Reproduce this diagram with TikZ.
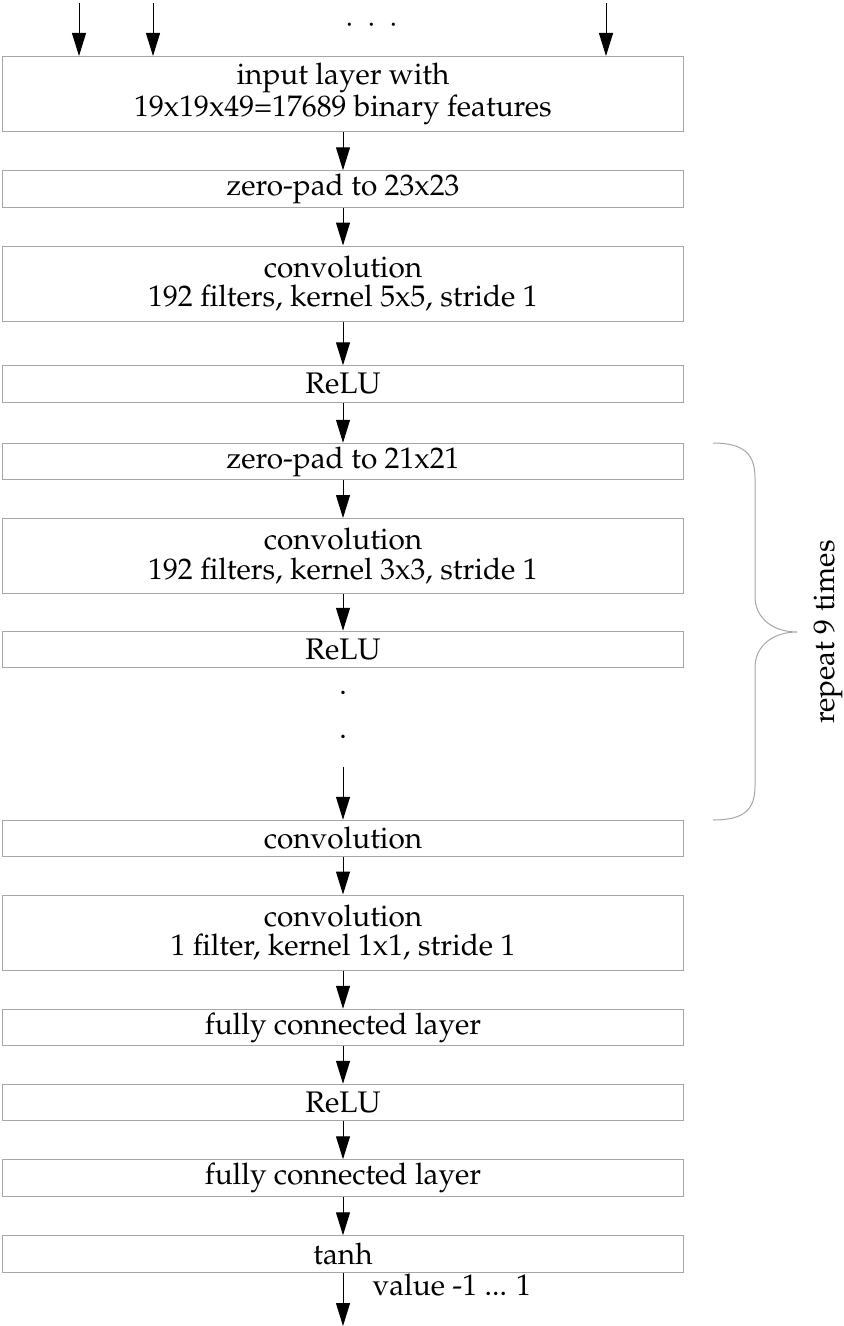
\documentclass[tikz,border=0pt]{standalone}
\usepackage[T1]{fontenc}
\usepackage{mathpazo}
\usetikzlibrary{arrows.meta}

\begin{document}
\begin{tikzpicture}[x=0.4pt,y=-0.4pt,>={Triangle[length=9.2pt,width=5.6pt]},
  every node/.style={font=\fontsize{11.9pt}{11.8pt}\selectfont},
  layer/.style={draw=black!35,line width=0.4pt,minimum width=272pt,minimum height=14.6pt,inner sep=0pt,align=center},
  big/.style={layer,minimum height=30pt}]
\useasboundingbox (0,0) rectangle (843,1326);
\node[big](in) at (343,94){input layer with\\19x19x49=17689 binary features};
\node[layer](pad1) at (343,189){zero-pad to 23x23};
\node[big](conv1) at (343,283.5){convolution\\192 filters, kernel 5x5, stride 1};
\node[layer](relu1) at (343,384){ReLU};
\node[layer](pad2) at (343,461.5){zero-pad to 21x21};
\node[big](conv2) at (343,556){convolution\\192 filters, kernel 3x3, stride 1};
\node[layer](relu2) at (343,649.5){ReLU};
\node[layer](conv3) at (343,838.5){convolution};
\node[big](conv4) at (343,932.5){convolution\\1 filter, kernel 1x1, stride 1};
\node[layer](fc1) at (343,1027.5){fully connected layer};
\node[layer](relu3) at (343,1102.5){ReLU};
\node[layer](fc2) at (343,1178){fully connected layer};
\node[layer](tanh) at (343,1254){tanh};
% inputs on top
\foreach \x/\n in {79/t1,153/t2,606/t3}{
  \coordinate(\n) at (\x,3);
  \draw[->](\n)--(\n|-in.north);}
\foreach \x in {350,372,394}\node(d\x) at (\x,26){$\cdot$};
% the stack
\foreach \a/\b in {in/pad1,pad1/conv1,conv1/relu1,relu1/pad2,pad2/conv2,conv2/relu2,
  conv3/conv4,conv4/fc1,fc1/relu3,relu3/fc2,fc2/tanh}
  \draw[->](\a)--(\b);
\node[anchor=base](v1) at (343,694){.};
\node[anchor=base](v2) at (343,738){.};
\coordinate(c) at (343,767);
\draw[->](c)--(conv3);
\coordinate(out) at (343,1326);
\draw[->](tanh)--(out);
\node[anchor=base west,inner sep=0pt](val) at (372,1295){value -1 ... 1};
% repeat brace
\draw[black!35,line width=0.4pt](713,443).. controls (745,443) and (755,455) ..(755,478)--(755,596)
  .. controls (755,620) and (775,632) ..(797,632).. controls (775,632) and (755,644) ..(755,668)
  --(755,786).. controls (755,809) and (745,820) ..(713,820);
\node[rotate=90](rep) at (828,632){repeat 9 times};
\end{tikzpicture}
\end{document}
